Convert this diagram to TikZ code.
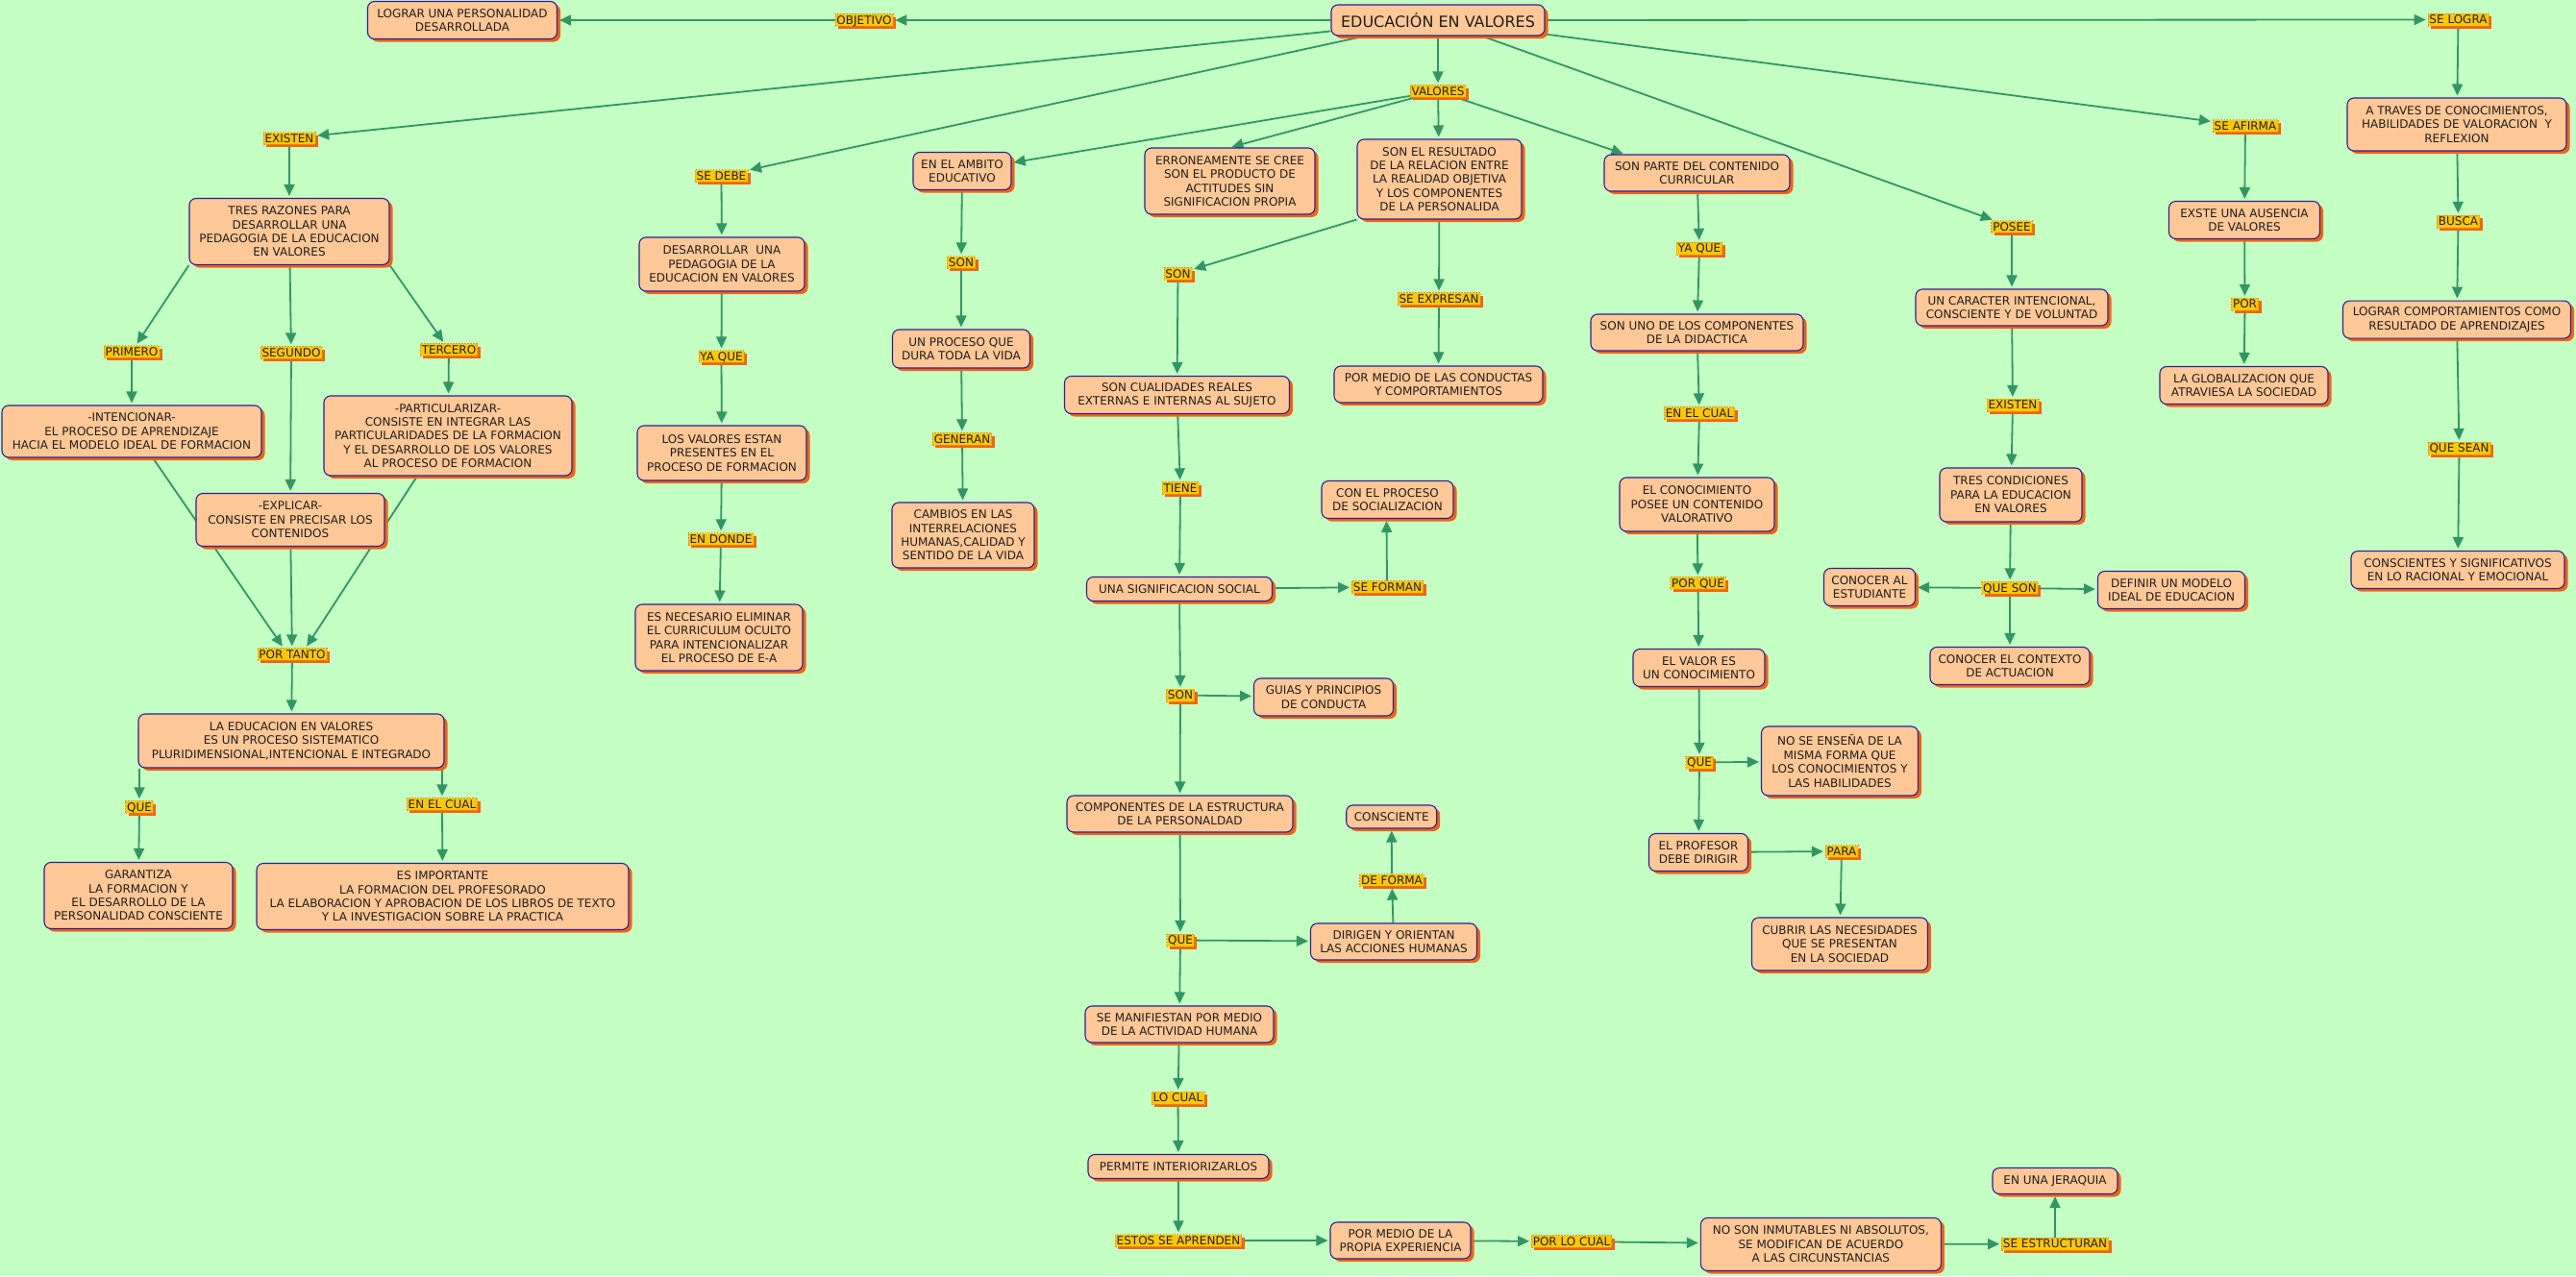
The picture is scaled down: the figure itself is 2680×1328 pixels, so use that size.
\documentclass[tikz,border=0pt]{standalone}
\usepackage{fontspec}
\setmainfont{DejaVu Sans}
\usetikzlibrary{arrows.meta,shadows,calc}
\definecolor{bggreen}{RGB}{196,255,196}
\definecolor{peach}{RGB}{255,200,150}
\definecolor{boxline}{RGB}{45,30,150}
\definecolor{shadoworange}{RGB}{240,100,20}
\definecolor{gold}{RGB}{255,200,0}
\definecolor{golddash}{RGB}{225,150,0}
\definecolor{arrowgreen}{RGB}{50,150,100}
\definecolor{txt}{RGB}{30,30,30}
\newcommand\mapfont{\fontsize{12}{14.4}\selectfont}
\newcommand\titlefont{\fontsize{16}{19}\selectfont}
\pgfdeclarelayer{back}
\pgfdeclarelayer{edges}
\pgfsetlayers{back,edges,main}
\tikzset{
  cbox/.style={draw=boxline, fill=peach, rounded corners=7pt, line width=1.1pt,
    align=center, font=\mapfont, text=txt, inner xsep=3pt, inner ysep=2pt,
    drop shadow={shadow xshift=3.5pt, shadow yshift=-3pt, fill=shadoworange, opacity=1}},
  sz/.style 2 args={minimum width=#1pt, minimum height=#2pt},
  lbl/.style={fill=gold, draw=golddash, line width=0.6pt, dash pattern=on 1.5pt off 1.5pt,
    font=\mapfont, text=txt, inner xsep=1.5pt, inner ysep=1.6pt,
    text height=9pt, text depth=0.5pt,
    drop shadow={shadow xshift=3pt, shadow yshift=-3pt, fill=shadoworange, draw=none, opacity=1}},
  conn/.style={draw=arrowgreen, line width=1.8pt, solid, -{Triangle[length=12pt,width=11pt]}, shorten >=2pt}
}
\begin{document}
\begin{tikzpicture}[x=1pt,y=-1pt]
\begin{pgfonlayer}{back}
\fill[bggreen] (0,0) rectangle (2680,1328);
\end{pgfonlayer}
\useasboundingbox (0,0) rectangle (2680,1328);

% ---------- concept boxes ----------
\node[cbox,sz={222}{32},font=\titlefont] (edu) at (1496,21) {EDUCACIÓN EN VALORES};
\node[cbox,sz={197}{39}] (logr) at (481,21) {LOGRAR UNA PERSONALIDAD\\DESARROLLADA};
\node[cbox,sz={208}{69}] (tres) at (301,241) {TRES RAZONES PARA\\DESARROLLAR UNA\\PEDAGOGIA DE LA EDUCACION\\EN VALORES};
\node[cbox,sz={270}{54}] (intenc) at (137,449) {-INTENCIONAR-\\EL PROCESO DE APRENDIZAJE\\HACIA EL MODELO IDEAL DE FORMACION};
\node[cbox,sz={258}{83}] (partic) at (466,453.5) {-PARTICULARIZAR-\\CONSISTE EN INTEGRAR LAS\\PARTICULARIDADES DE LA FORMACION\\Y EL DESARROLLO DE LOS VALORES\\AL PROCESO DE FORMACION};
\node[cbox,sz={196}{55}] (explic) at (302,541) {-EXPLICAR-\\CONSISTE EN PRECISAR LOS\\CONTENIDOS};
\node[cbox,sz={318}{56}] (laedu) at (303,771) {LA EDUCACION EN VALORES\\ES UN PROCESO SISTEMATICO\\PLURIDIMENSIONAL,INTENCIONAL E INTEGRADO};
\node[cbox,sz={196}{69}] (garant) at (144,932) {GARANTIZA\\LA FORMACION Y\\EL DESARROLLO DE LA\\PERSONALIDAD CONSCIENTE};
\node[cbox,sz={387}{69}] (esimp) at (460.5,933) {ES IMPORTANTE\\LA FORMACION DEL PROFESORADO\\LA ELABORACION Y APROBACION DE LOS LIBROS DE TEXTO\\Y LA INVESTIGACION SOBRE LA PRACTICA};
\node[cbox,sz={172}{56}] (desarr) at (751,275) {DESARROLLAR\ \ UNA\\PEDAGOGIA DE LA\\EDUCACION EN VALORES};
\node[cbox,sz={176}{57}] (losval) at (751,471.5) {LOS VALORES ESTAN\\PRESENTES EN EL\\PROCESO DE FORMACION};
\node[cbox,sz={174}{69}] (esnec) at (748,663.5) {ES NECESARIO ELIMINAR\\EL CURRICULUM OCULTO\\PARA INTENCIONALIZAR\\EL PROCESO DE E-A};
\node[cbox,sz={102}{39}] (ambito) at (1001,178) {EN EL AMBITO\\EDUCATIVO};
\node[cbox,sz={143}{40}] (proceso) at (1000,363) {UN PROCESO QUE\\DURA TODA LA VIDA};
\node[cbox,sz={148}{68}] (cambios) at (1002,557) {CAMBIOS EN LAS\\INTERRELACIONES\\HUMANAS,CALIDAD Y\\SENTIDO DE LA VIDA};
\node[cbox,sz={177}{69}] (errone) at (1279.5,188.5) {ERRONEAMENTE SE CREE\\SON EL PRODUCTO DE\\ACTITUDES SIN\\SIGNIFICACION PROPIA};
\node[cbox,sz={171}{83}] (result) at (1497.5,186.5) {SON EL RESULTADO\\DE LA RELACION ENTRE\\LA REALIDAD OBJETIVA\\Y LOS COMPONENTES\\DE LA PERSONALIDA};
\node[cbox,sz={217}{38}] (pormedio) at (1496.5,400) {POR MEDIO DE LAS CONDUCTAS\\Y COMPORTAMIENTOS};
\node[cbox,sz={234}{39}] (cualid) at (1224.5,411) {SON CUALIDADES REALES\\EXTERNAS E INTERNAS AL SUJETO};
\node[cbox,sz={193}{25}] (signif) at (1227,613) {UNA SIGNIFICACION SOCIAL};
\node[cbox,sz={137}{39}] (conproc) at (1443.5,520) {CON EL PROCESO\\DE SOCIALIZACION};
\node[cbox,sz={145}{39}] (guias) at (1377,725.5) {GUIAS Y PRINCIPIOS\\DE CONDUCTA};
\node[cbox,sz={235}{38}] (compon) at (1227.5,847) {COMPONENTES DE LA ESTRUCTURA\\DE LA PERSONALDAD};
\node[cbox,sz={94}{24}] (conscte) at (1447.7,850) {CONSCIENTE};
\node[cbox,sz={173}{38}] (dirigen) at (1450,980) {DIRIGEN Y ORIENTAN\\LAS ACCIONES HUMANAS};
\node[cbox,sz={196}{38}] (manif) at (1227,1066) {SE MANIFIESTAN POR MEDIO\\DE LA ACTIVIDAD HUMANA};
\node[cbox,sz={188}{25}] (permite) at (1226,1214) {PERMITE INTERIORIZARLOS};
\node[cbox,sz={146}{38}] (propia) at (1457,1291) {POR MEDIO DE LA\\PROPIA EXPERIENCIA};
\node[cbox,sz={250}{55}] (noson) at (1894.4,1295) {NO SON INMUTABLES NI ABSOLUTOS,\\SE MODIFICAN DE ACUERDO\\A LAS CIRCUNSTANCIAS};
\node[cbox,sz={130}{27}] (jerar) at (2138,1229) {EN UNA JERAQUIA};
\node[cbox,sz={193}{38}] (parte) at (1765.5,180) {SON PARTE DEL CONTENIDO\\CURRICULAR};
\node[cbox,sz={221}{38}] (sonuno) at (1765.5,346) {SON UNO DE LOS COMPONENTES\\DE LA DIDACTICA};
\node[cbox,sz={161}{56}] (conoc) at (1765.5,525) {EL CONOCIMIENTO\\POSEE UN CONTENIDO\\VALORATIVO};
\node[cbox,sz={137}{39}] (valor) at (1767.5,695) {EL VALOR ES\\UN CONOCIMIENTO};
\node[cbox,sz={163}{72}] (noense) at (1914,792) {NO SE ENSEÑA DE LA\\MISMA FORMA QUE\\LOS CONOCIMIENTOS Y\\LAS HABILIDADES};
\node[cbox,sz={103}{39}] (profesor) at (1767,887) {EL PROFESOR\\DEBE DIRIGIR};
\node[cbox,sz={183}{55}] (cubrir) at (1914,982.5) {CUBRIR LAS NECESIDADES\\QUE SE PRESENTAN\\EN LA SOCIEDAD};
\node[cbox,sz={200}{38}] (caract) at (2093,320) {UN CARACTER INTENCIONAL,\\CONSCIENTE Y DE VOLUNTAD};
\node[cbox,sz={148}{56}] (trescond) at (2092,515) {TRES CONDICIONES\\PARA LA EDUCACION\\EN VALORES};
\node[cbox,sz={95}{39}] (conocal) at (1945,611) {CONOCER AL\\ESTUDIANTE};
\node[cbox,sz={153}{39}] (definir) at (2259,614) {DEFINIR UN MODELO\\IDEAL DE EDUCACION};
\node[cbox,sz={166}{39}] (context) at (2091,693) {CONOCER EL CONTEXTO\\DE ACTUACION};
\node[cbox,sz={157}{39}] (exste) at (2335,229) {EXSTE UNA AUSENCIA\\DE VALORES};
\node[cbox,sz={175}{39}] (global) at (2334.5,401) {LA GLOBALIZACION QUE\\ATRAVIESA LA SOCIEDAD};
\node[cbox,sz={228}{55}] (atraves) at (2556,129.5) {A TRAVES DE CONOCIMIENTOS,\\HABILIDADES DE VALORACION\ \ Y\\REFLEXION};
\node[cbox,sz={237}{39}] (lograrc) at (2556,332.6) {LOGRAR COMPORTAMIENTOS COMO\\RESULTADO DE APRENDIZAJES};
\node[cbox,sz={222}{39}] (conscs) at (2557,593) {CONSCIENTES Y SIGNIFICATIVOS\\EN LO RACIONAL Y EMOCIONAL};

% ---------- linking labels ----------
\node[lbl] (objetivo) at (899,21) {OBJETIVO};
\node[lbl] (selogra) at (2557.5,20.5) {SE LOGRA};
\node[lbl] (existen) at (301,144) {EXISTEN};
\node[lbl] (primero) at (137,366) {PRIMERO};
\node[lbl] (segundo) at (303,367) {SEGUNDO};
\node[lbl] (tercero) at (467,364) {TERCERO};
\node[lbl] (portanto) at (304,681) {POR TANTO};
\node[lbl] (que1) at (145,840) {QUE};
\node[lbl] (enelcual1) at (460,837) {EN EL CUAL};
\node[lbl] (sedebe) at (750.5,183) {SE DEBE};
\node[lbl] (yaque1) at (750.5,371) {YA QUE};
\node[lbl] (endonde) at (750,561) {EN DONDE};
\node[lbl] (valores) at (1496,95) {VALORES};
\node[lbl] (son1) at (1000,273) {SON};
\node[lbl] (generan) at (1001,457) {GENERAN};
\node[lbl] (son2) at (1225.5,285) {SON};
\node[lbl] (tiene) at (1228,508) {TIENE};
\node[lbl] (son3) at (1228,723.5) {SON};
\node[lbl] (seforman) at (1443.5,611) {SE FORMAN};
\node[lbl] (que3) at (1228,978.5) {QUE};
\node[lbl] (deforma) at (1448,916) {DE FORMA};
\node[lbl] (locual) at (1225.5,1142.5) {LO CUAL};
\node[lbl] (estos) at (1226,1291) {ESTOS SE APRENDEN};
\node[lbl] (porlocual) at (1635,1292) {POR LO CUAL};
\node[lbl] (seestr) at (2138,1294.5) {SE ESTRUCTURAN};
\node[lbl] (seexpr) at (1497,311) {SE EXPRESAN};
\node[lbl] (yaque2) at (1768,258.5) {YA QUE};
\node[lbl] (enelcual2) at (1768,430) {EN EL CUAL};
\node[lbl] (porque) at (1766.5,607) {POR QUE};
\node[lbl] (que2) at (1768,793.5) {QUE};
\node[lbl] (para) at (1916,886) {PARA};
\node[lbl] (posee) at (2093,236) {POSEE};
\node[lbl] (existen2) at (2094,421.5) {EXISTEN};
\node[lbl] (queson) at (2091,612) {QUE SON};
\node[lbl] (seafirma) at (2336,131) {SE AFIRMA};
\node[lbl] (por) at (2335.5,316.5) {POR};
\node[lbl] (busca) at (2557.5,230.5) {BUSCA};
\node[lbl] (quesean) at (2558.5,466.5) {QUE SEAN};

% ---------- connectors ----------
\begin{pgfonlayer}{edges}
\draw[conn] (edu) -- (objetivo);
\draw[conn] (objetivo) -- (logr);
\draw[conn] (edu) -- (existen);
\draw[conn] (edu) -- (sedebe);
\draw[conn] (edu) -- (valores);
\draw[conn] (edu) -- (posee);
\draw[conn] (edu) -- (seafirma);
\draw[conn] (edu) -- (selogra);
% left branch
\draw[conn] (existen) -- (tres);
\draw[conn] (tres.south west) -- (primero);
\draw[conn] (tres) -- (segundo);
\draw[conn] (tres.south east) -- (tercero);
\draw[conn] (primero) -- (intenc);
\draw[conn] (segundo) -- (explic);
\draw[conn] (tercero) -- (partic);
\draw[conn] ([xshift=22pt]intenc.south) -- ([xshift=-9pt]portanto.north);
\draw[conn] (explic) -- (portanto);
\draw[conn] ([xshift=-32pt]partic.south) -- ([xshift=14pt]portanto.north);
\draw[conn] (portanto) -- (laedu);
\draw[conn] (laedu.south -| que1) -- (que1);
\draw[conn] (laedu.south -| enelcual1) -- (enelcual1);
\draw[conn] (que1) -- (garant);
\draw[conn] (enelcual1) -- (esimp);
% se debe
\draw[conn] (sedebe) -- (desarr);
\draw[conn] (desarr) -- (yaque1);
\draw[conn] (yaque1) -- (losval);
\draw[conn] (losval) -- (endonde);
\draw[conn] (endonde) -- (esnec);
% valores
\draw[conn] (valores) -- (ambito);
\draw[conn] (valores) -- (errone.north);
\draw[conn] (valores) -- (result);
\draw[conn] (valores) -- ([xshift=22pt]parte.north west);
\draw[conn] (ambito) -- (son1);
\draw[conn] (son1) -- (proceso);
\draw[conn] (proceso) -- (generan);
\draw[conn] (generan) -- (cambios);
\draw[conn] (result.south west) -- (son2);
\draw[conn] (son2) -- (cualid);
\draw[conn] (cualid) -- (tiene);
\draw[conn] (tiene) -- (signif);
\draw[conn] (signif) -- (seforman);
\draw[conn] ([xshift=-0.5pt]seforman.north) -- ([xshift=-1pt]conproc.south);
\draw[conn] (signif) -- (son3);
\draw[conn] (son3) -- (guias);
\draw[conn] (son3) -- (compon);
\draw[conn] (compon) -- (que3);
\draw[conn] (que3) -- (dirigen);
\draw[conn] (dirigen) -- (deforma);
\draw[conn] (deforma) -- (conscte);
\draw[conn] (que3) -- (manif);
\draw[conn] (manif) -- (locual);
\draw[conn] (locual) -- (permite);
\draw[conn] (permite) -- (estos);
\draw[conn] (estos) -- (propia);
\draw[conn] (propia) -- (porlocual);
\draw[conn] (porlocual) -- (noson);
\draw[conn] (noson) -- (seestr);
\draw[conn] (seestr) -- (jerar);
\draw[conn] (result) -- (seexpr);
\draw[conn] (seexpr) -- (pormedio);
% parte
\draw[conn] (parte) -- (yaque2);
\draw[conn] (yaque2) -- (sonuno);
\draw[conn] (sonuno) -- (enelcual2);
\draw[conn] (enelcual2) -- (conoc);
\draw[conn] (conoc) -- (porque);
\draw[conn] (porque) -- (valor);
\draw[conn] (valor) -- (que2);
\draw[conn] (que2) -- (noense);
\draw[conn] (que2) -- (profesor);
\draw[conn] (profesor) -- (para);
\draw[conn] (para) -- (cubrir);
% posee
\draw[conn] (posee) -- (caract);
\draw[conn] (caract) -- (existen2);
\draw[conn] (existen2) -- (trescond);
\draw[conn] (trescond) -- (queson);
\draw[conn] (queson) -- (conocal);
\draw[conn] (queson) -- (definir);
\draw[conn] (queson) -- (context);
% se afirma
\draw[conn] (seafirma) -- (exste);
\draw[conn] (exste) -- (por);
\draw[conn] (por) -- (global);
% se logra
\draw[conn] (selogra) -- (atraves);
\draw[conn] (atraves) -- (busca);
\draw[conn] (busca) -- (lograrc);
\draw[conn] (lograrc) -- (quesean);
\draw[conn] (quesean) -- (conscs);
\end{pgfonlayer}
\end{tikzpicture}
\end{document}
